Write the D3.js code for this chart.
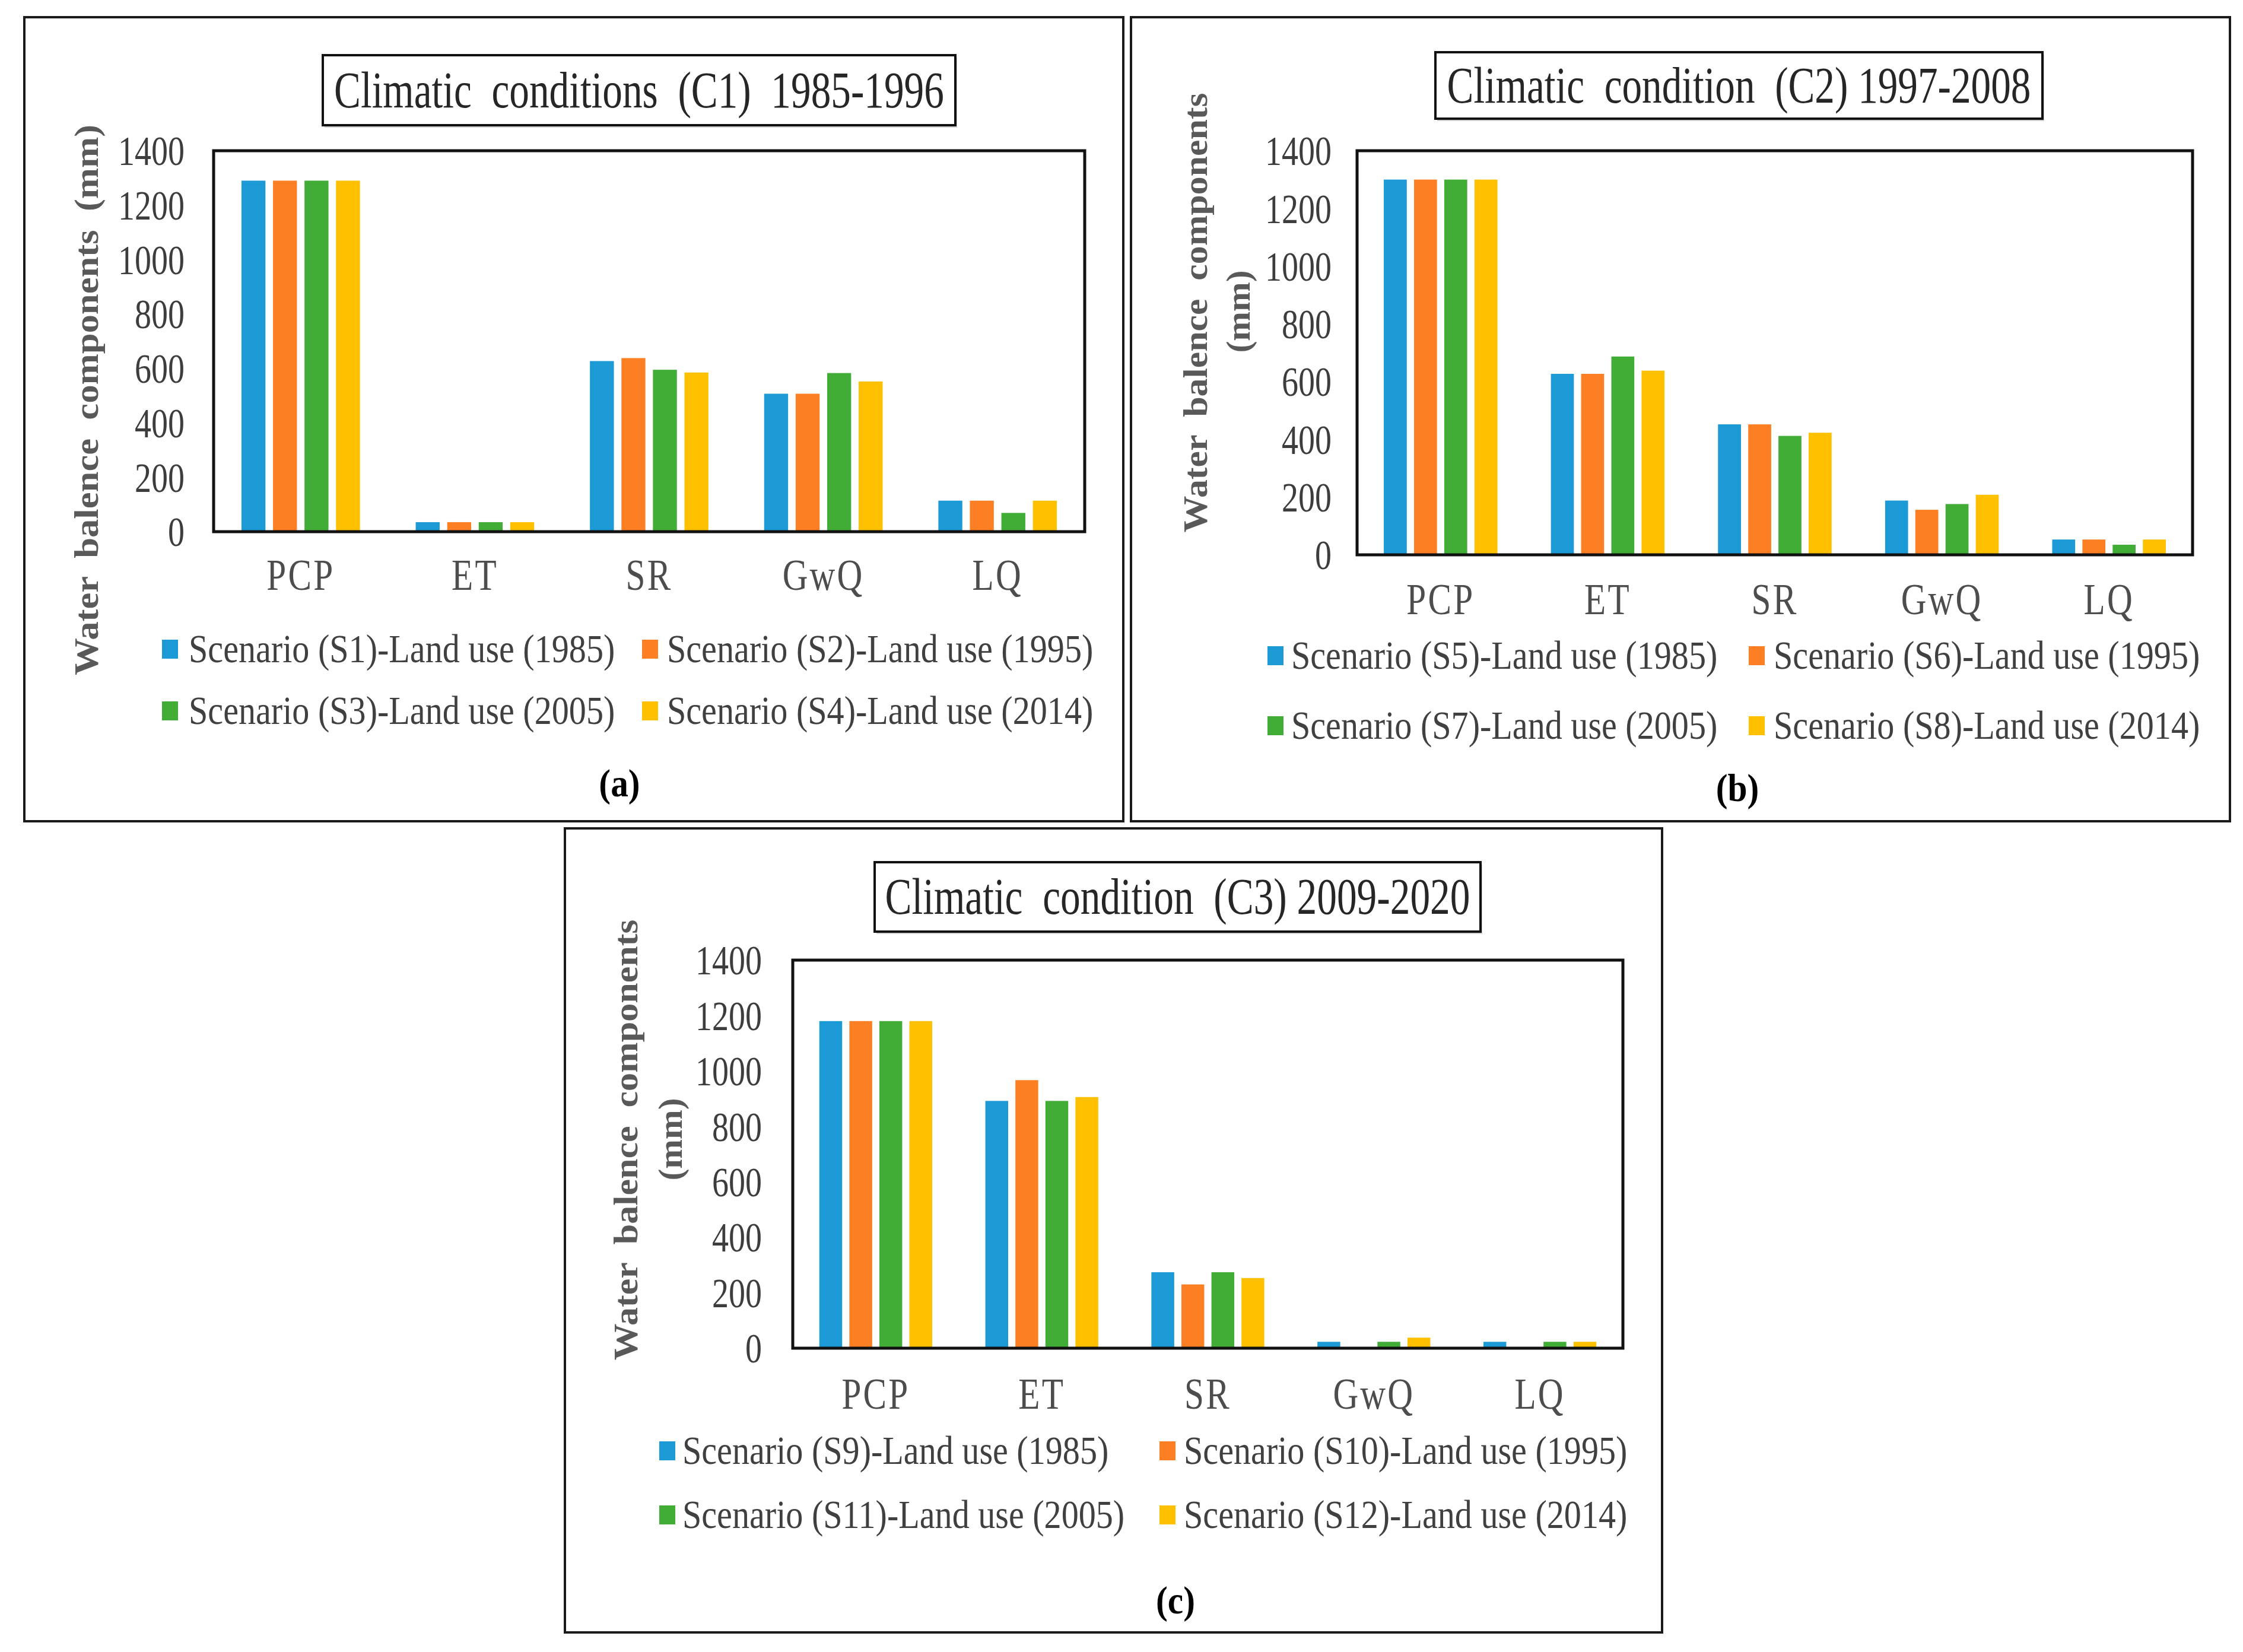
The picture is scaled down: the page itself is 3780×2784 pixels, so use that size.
<!DOCTYPE html>
<html>
<head>
<meta charset="utf-8">
<script src="https://cdn.jsdelivr.net/npm/d3@7"></script>
<style>
  html, body { margin: 0; padding: 0; background: #fff; }
  text { font-family: "Liberation Serif", "Times New Roman", serif; white-space: pre; }
</style>
</head>
<body>
<script>
// categories on the x axis
var categories = ["PCP", "ET", "SR", "GwQ", "LQ"];
var yTicks = [0, 200, 400, 600, 800, 1000, 1200, 1400];
var colors = ["#1b9ad6", "#fd7f23", "#41ad37", "#ffc000"];

// (a) climatic conditions C1 1985-1996
var s1Values = [1290, 35, 627, 507, 114];
var s2Values = [1290, 35, 638, 507, 114];
var s3Values = [1290, 35, 595, 583, 69];
var s4Values = [1290, 35, 585, 552, 114];
var legendA = ["Scenario (S1)-Land use (1985)", "Scenario (S2)-Land use (1995)",
               "Scenario (S3)-Land use (2005)", "Scenario (S4)-Land use (2014)"];

// (b) climatic condition C2 1997-2008
var s5Values = [1300, 627, 452, 188, 53];
var s6Values = [1300, 627, 452, 156, 53];
var s7Values = [1300, 687, 412, 176, 35];
var s8Values = [1300, 638, 423, 208, 53];
var legendB = ["Scenario (S5)-Land use (1985)", "Scenario (S6)-Land use (1995)",
               "Scenario (S7)-Land use (2005)", "Scenario (S8)-Land use (2014)"];

// (c) climatic condition C3 2009-2020
var s9Values  = [1180, 892, 274, 23, 23];
var s10Values = [1180, 967, 230, 0, 0];
var s11Values = [1180, 892, 274, 23, 23];
var s12Values = [1180, 906, 253, 38, 23];
var legendC = ["Scenario (S9)-Land use (1985)", "Scenario (S10)-Land use (1995)",
               "Scenario (S11)-Land use (2005)", "Scenario (S12)-Land use (2014)"];

var svg = d3.select("body").append("svg")
  .attr("width", 3780)
  .attr("height", 2784);

// the original figure uses a narrow serif, so squeeze text horizontally
function squeeze(sel, k) {
  sel.each(function() {
    var t = d3.select(this);
    var x = +t.attr("x") || 0;
    t.attr("x", x / k).attr("transform", "scale(" + k + ",1)");
  });
}
// squeeze to an exact width
function fitTo(sel, w) {
  sel.each(function() {
    var len = this.getComputedTextLength();
    d3.select(this).call(squeeze, w / len);
  });
}

var panels = [
  {
    frame: [41, 29, 1893, 1384],
    titleBox: [544, 93, 1610, 211], title: "Climatic  conditions  (C1)  1985-1996", titleW: 1028, titleBase: 181,
    plot: [360, 254, 1828, 896], tickRight: 311,
    ylabel: [{ text: "Water  balence  components  (mm)", x: 145, y: 674, len: 928 }],
    catBase: 994,
    rows: [1094, 1198], cols: [[273, 318], [1082, 1124]],
    series: [s1Values, s2Values, s3Values, s4Values], labels: legendA,
    tag: "(a)", tagX: 1044, tagBase: 1342
  },
  {
    frame: [1906, 29, 3758, 1384],
    titleBox: [2419, 88, 3442, 200], title: "Climatic  condition  (C2) 1997-2008", titleW: 984, titleBase: 173,
    plot: [2287, 254, 3695, 935], tickRight: 2244,
    ylabel: [{ text: "Water  balence  components", x: 2014, y: 527, len: 741 },
             { text: "(mm)", x: 2086, y: 525, len: 139 }],
    catBase: 1035,
    rows: [1105, 1223], cols: [[2136, 2176], [2947, 2989]],
    series: [s5Values, s6Values, s7Values, s8Values], labels: legendB,
    tag: "(b)", tagX: 2928, tagBase: 1350
  },
  {
    frame: [952, 1396, 2801, 2751],
    titleBox: [1474, 1453, 2495, 1570], title: "Climatic  condition  (C3) 2009-2020", titleW: 986, titleBase: 1540,
    plot: [1336, 1618, 2735, 2272], tickRight: 1284,
    ylabel: [{ text: "Water  balence  components", x: 1054, y: 1921, len: 743 },
             { text: "(mm)", x: 1129, y: 1920, len: 139 }],
    catBase: 2374,
    rows: [2445, 2553], cols: [[1111, 1150], [1954, 1995]],
    series: [s9Values, s10Values, s11Values, s12Values], labels: legendC,
    tag: "(c)", tagX: 1981, tagBase: 2719
  }
];

panels.forEach(function(p) {
  var g = svg.append("g");

  // outer frame
  g.append("rect")
    .attr("x", p.frame[0]).attr("y", p.frame[1])
    .attr("width", p.frame[2] - p.frame[0]).attr("height", p.frame[3] - p.frame[1])
    .attr("fill", "#fff").attr("stroke", "#1a1a1a").attr("stroke-width", 4);

  // title box + title
  g.append("rect")
    .attr("x", p.titleBox[0] + 3).attr("y", p.titleBox[1] + 4)
    .attr("width", p.titleBox[2] - p.titleBox[0]).attr("height", p.titleBox[3] - p.titleBox[1])
    .attr("fill", "#d0d0d0");
  g.append("rect")
    .attr("x", p.titleBox[0]).attr("y", p.titleBox[1])
    .attr("width", p.titleBox[2] - p.titleBox[0]).attr("height", p.titleBox[3] - p.titleBox[1])
    .attr("fill", "#fff").attr("stroke", "#111").attr("stroke-width", 4);
  g.append("text")
    .attr("x", (p.titleBox[0] + p.titleBox[2]) / 2).attr("y", p.titleBase)
    .attr("text-anchor", "middle")
    .attr("font-size", 86).attr("fill", "#262626")
    .text(p.title)
    .call(fitTo, p.titleW);

  var x0 = d3.scaleBand().domain(categories)
    .range([p.plot[0], p.plot[2]])
    .paddingInner(0.32).paddingOuter(0.16);
  var x1 = d3.scaleBand().domain(d3.range(p.series.length))
    .range([0, x0.bandwidth()])
    .paddingInner(0.24);
  var y = d3.scaleLinear().domain([0, 1400]).range([p.plot[3], p.plot[1]]);

  // bars
  var groups = g.selectAll(".cat").data(categories).enter().append("g")
    .attr("class", "cat")
    .attr("transform", function(d) { return "translate(" + x0(d) + ",0)"; });
  groups.selectAll("rect")
    .data(function(d, ci) { return p.series.map(function(s, si) { return { si: si, v: s[ci] }; }); })
    .enter().append("rect")
    .attr("x", function(d) { return x1(d.si); })
    .attr("y", function(d) { return y(d.v); })
    .attr("width", x1.bandwidth())
    .attr("height", function(d) { return y(0) - y(d.v); })
    .attr("fill", function(d) { return colors[d.si]; });

  // plot border
  g.append("rect")
    .attr("x", p.plot[0]).attr("y", p.plot[1])
    .attr("width", p.plot[2] - p.plot[0]).attr("height", p.plot[3] - p.plot[1])
    .attr("fill", "none").attr("stroke", "#111").attr("stroke-width", 5);

  // y axis
  var yAxis = g.append("g")
    .attr("transform", "translate(" + p.plot[0] + ",0)")
    .call(d3.axisLeft(y).tickValues(yTicks).tickFormat(d3.format("d"))
      .tickSize(0).tickPadding(p.plot[0] - p.tickRight));
  yAxis.select(".domain").remove();
  yAxis.selectAll("text")
    .attr("font-family", null).attr("font-size", 70).attr("fill", "#3d3d3d")
    .attr("dy", "0.34em")
    .call(squeeze, 0.8);

  // x axis
  var xAxis = g.append("g")
    .attr("transform", "translate(0," + p.plot[3] + ")")
    .call(d3.axisBottom(x0).tickSize(0));
  xAxis.select(".domain").remove();
  xAxis.selectAll("text")
    .attr("font-family", null).attr("font-size", 74).attr("fill", "#4d4d4d")
    .attr("letter-spacing", 4)
    .attr("y", p.catBase - p.plot[3]).attr("dy", 0)
    .call(squeeze, 0.8);

  // y axis label
  p.ylabel.forEach(function(l) {
    g.append("text")
      .attr("transform", "translate(" + l.x + "," + l.y + ") rotate(-90)")
      .attr("text-anchor", "middle").attr("dy", "0.35em")
      .attr("font-size", 56).attr("font-weight", "bold").attr("fill", "#595959")
      .text(l.text)
      .attr("textLength", l.len).attr("lengthAdjust", "spacingAndGlyphs");
  });

  // legend
  p.labels.forEach(function(lab, i) {
    var rowY = p.rows[Math.floor(i / 2)];
    var col = p.cols[i % 2];
    g.append("rect")
      .attr("x", col[0]).attr("y", rowY - 16)
      .attr("width", 27).attr("height", 32)
      .attr("fill", colors[i]);
    g.append("text")
      .attr("x", col[1]).attr("y", rowY + 22)
      .attr("font-size", 68).attr("fill", "#404040")
      .text(lab)
      .call(squeeze, 0.855);
  });

  // panel tag
  g.append("text")
    .attr("x", p.tagX).attr("y", p.tagBase)
    .attr("text-anchor", "middle")
    .attr("font-size", 66).attr("font-weight", "bold").attr("fill", "#000")
    .text(p.tag)
    .call(squeeze, 0.9);
});
</script>
</body>
</html>
